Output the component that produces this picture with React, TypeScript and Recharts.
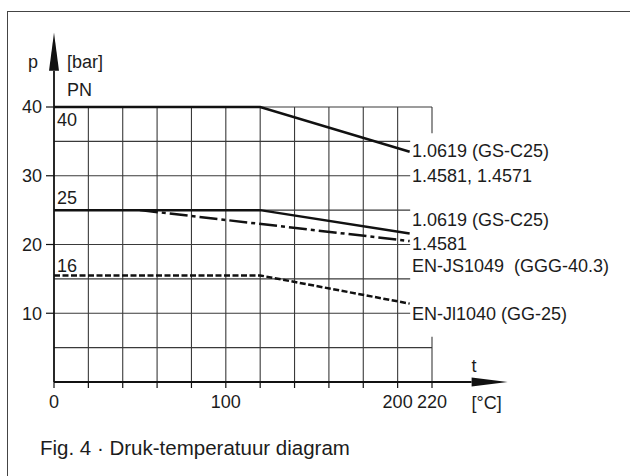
import React from 'react';
import {
  ComposedChart,
  Line,
  XAxis,
  YAxis,
  ReferenceLine,
  ReferenceDot,
} from 'recharts';

// t [°C] at the corners of the curves, p [bar]
const tKnee = [0, 120, 207];
const pGS40 = [40, 40, 33.5];
const pGS25 = [25, 25, 21.6];
const pGG16 = [15.5, 15.5, 11.4];
const t4581 = [50, 207];
const p4581 = [25, 20.5];

const xTicks = [0, 20, 40, 60, 80, 100, 120, 140, 160, 180, 200, 220];
const xLabeled = [0, 100, 200, 220];
const yTicks = [10, 20, 30, 40];

// grid: the label column on the right interrupts part of it
const gridFullP = [5, 40];
const gridShortP = [10, 15, 20, 25, 30, 35];
const gridV = [20, 40, 60, 80, 100, 120, 140, 160, 180, 200];
const gridCutT = 207.3;
const gridCutP = [6.6, 36.2];

// material labels at the right end of the curves
const endLabels = [
  '1.0619 (GS-C25)',
  '1.4581, 1.4571',
  '1.0619 (GS-C25)',
  '1.4581',
  'EN-JS1049\u00a0 (GGG-40.3)',
  'EN-Jl1040 (GG-25)',
];
const endLabelP = [33.6, 30, 23.6, 20.2, 16.9, 10];
const endLabelT = 208.3;

const pnLabels = ['40', '25', '16'];
const pnLabelP = [38.1, 26.8, 17];

const TEXT = '#1c1c1c';
const GRID = '#3a3a3a';
const FONT = '"Liberation Sans", Arial, sans-serif';

const gs40 = tKnee.map((t, i) => ({ t, p: pGS40[i] }));
const gs25 = tKnee.map((t, i) => ({ t, p: pGS25[i] }));
const gg16 = tKnee.map((t, i) => ({ t, p: pGG16[i] }));
const ss4581 = t4581.map((t, i) => ({ t, p: p4581[i] }));

// grid segments as little two-point series
const gridSegs = [
  ...gridFullP.map((p) => [{ t: 0, p }, { t: 220, p }]),
  ...gridShortP.map((p) => [{ t: 0, p }, { t: gridCutT, p }]),
  ...gridV.map((t) => [{ t, p: 0 }, { t, p: 40 }]),
  [{ t: 220, p: 0 }, { t: 220, p: gridCutP[0] }],
  [{ t: 220, p: gridCutP[1] }, { t: 220, p: 40 }],
];

function Arrow(props: any) {
  const { x1, y1, x2, y2, head = 36, half = 4.5 } = props;
  const len = Math.hypot(x2 - x1, y2 - y1);
  const ux = (x2 - x1) / len;
  const uy = (y2 - y1) / len;
  const bx = x2 - ux * head;
  const by = y2 - uy * head;
  const pts = `${x2},${y2} ${bx - uy * half},${by + ux * half} ${bx + uy * half},${by - ux * half}`;
  return (
    <g>
      <line x1={x1} y1={y1} x2={bx} y2={by} stroke="#111" strokeWidth={1.8} />
      <polygon points={pts} fill="#111" />
    </g>
  );
}

function textLabel(value: string, position: any, size = 18) {
  return { value, position, offset: 0, fontSize: size, fill: TEXT, fontFamily: FONT };
}

export default function App() {
  return (
    <div
      style={{
        position: 'absolute',
        left: 0,
        top: 0,
        width: 630,
        height: 476,
        background: '#fff',
        overflow: 'hidden',
        fontFamily: FONT,
      }}
    >
      {/* frame of the figure */}
      <div
        style={{
          position: 'absolute',
          left: 7,
          top: 11,
          width: 700,
          height: 600,
          borderTop: '1.5px solid #444',
          borderLeft: '1.5px solid #444',
        }}
      />
      <ComposedChart
        width={630}
        height={476}
        margin={{ top: 107, right: 198, bottom: 64, left: 8 }}
        style={{ position: 'absolute', left: 0, top: 0 }}
      >
        <XAxis
          type="number"
          dataKey="t"
          domain={[0, 220]}
          ticks={xTicks}
          interval={0}
          height={30}
          axisLine={false}
          tickSize={6}
          tickMargin={7}
          tickLine={{ stroke: '#111', strokeWidth: 1.2 }}
          tick={{ fontSize: 18, fill: TEXT, fontFamily: FONT }}
          tickFormatter={(v) => (xLabeled.includes(v) ? String(v) : '')}
        />
        <YAxis
          type="number"
          dataKey="p"
          domain={[0, 40]}
          ticks={yTicks}
          interval={0}
          width={46}
          axisLine={false}
          tickSize={8}
          tickMargin={4}
          tickLine={{ stroke: '#111', strokeWidth: 1.2 }}
          tick={{ fontSize: 18, fill: TEXT, fontFamily: FONT }}
        />
        {gridSegs.map((d, i) => (
          <Line
            key={'g' + i}
            data={d}
            dataKey="p"
            type="linear"
            stroke={GRID}
            strokeWidth={1.1}
            dot={false}
            activeDot={false}
            isAnimationActive={false}
          />
        ))}
        <ReferenceLine
          segment={[{ x: 0, y: 0 }, { x: 0, y: 50.8 }]}
          ifOverflow="visible"
          shape={(p: any) => <Arrow {...p} head={38} half={5} />}
        />
        <ReferenceLine
          segment={[{ x: 0, y: 0 }, { x: 264, y: 0 }]}
          ifOverflow="visible"
          shape={(p: any) => <Arrow {...p} head={36} half={4.5} />}
        />
        <Line data={gs40} dataKey="p" type="linear" stroke="#111" strokeWidth={2.5} dot={false} isAnimationActive={false} />
        <Line data={gs25} dataKey="p" type="linear" stroke="#111" strokeWidth={2.5} dot={false} isAnimationActive={false} />
        <Line
          data={ss4581}
          dataKey="p"
          type="linear"
          stroke="#111"
          strokeWidth={2.5}
          strokeDasharray="18 4 4 4"
          dot={false}
          isAnimationActive={false}
        />
        <Line
          data={gg16}
          dataKey="p"
          type="linear"
          stroke="#111"
          strokeWidth={2.5}
          strokeDasharray="6 2.5"
          dot={false}
          isAnimationActive={false}
        />
        {endLabels.map((s, i) => (
          <ReferenceDot
            key={'e' + i}
            x={endLabelT}
            y={endLabelP[i]}
            r={0}
            fill="none"
            stroke="none"
            ifOverflow="visible"
            label={textLabel(s, 'right')}
          />
        ))}
        {pnLabels.map((s, i) => (
          <ReferenceDot
            key={'pn' + i}
            x={1.7}
            y={pnLabelP[i]}
            r={0}
            fill="none"
            stroke="none"
            ifOverflow="visible"
            label={textLabel(s, 'right')}
          />
        ))}
        <ReferenceDot x={-12.2} y={46.6} r={0} fill="none" stroke="none" ifOverflow="visible" label={textLabel('p', 'center')} />
        <ReferenceDot x={7.6} y={46.6} r={0} fill="none" stroke="none" ifOverflow="visible" label={textLabel('[bar]', 'right')} />
        <ReferenceDot x={7.6} y={42.5} r={0} fill="none" stroke="none" ifOverflow="visible" label={textLabel('PN', 'right')} />
        <ReferenceDot x={244.5} y={2.4} r={0} fill="none" stroke="none" ifOverflow="visible" label={textLabel('t', 'center')} />
        <ReferenceDot x={243} y={-3} r={0} fill="none" stroke="none" ifOverflow="visible" label={textLabel('[°C]', 'right')} />
      </ComposedChart>
      <div
        style={{
          position: 'absolute',
          left: 40,
          top: 436,
          fontSize: 20.5,
          color: TEXT,
          whiteSpace: 'nowrap',
          lineHeight: '24px',
        }}
      >
        Fig. 4 · Druk-temperatuur diagram
      </div>
    </div>
  );
}
